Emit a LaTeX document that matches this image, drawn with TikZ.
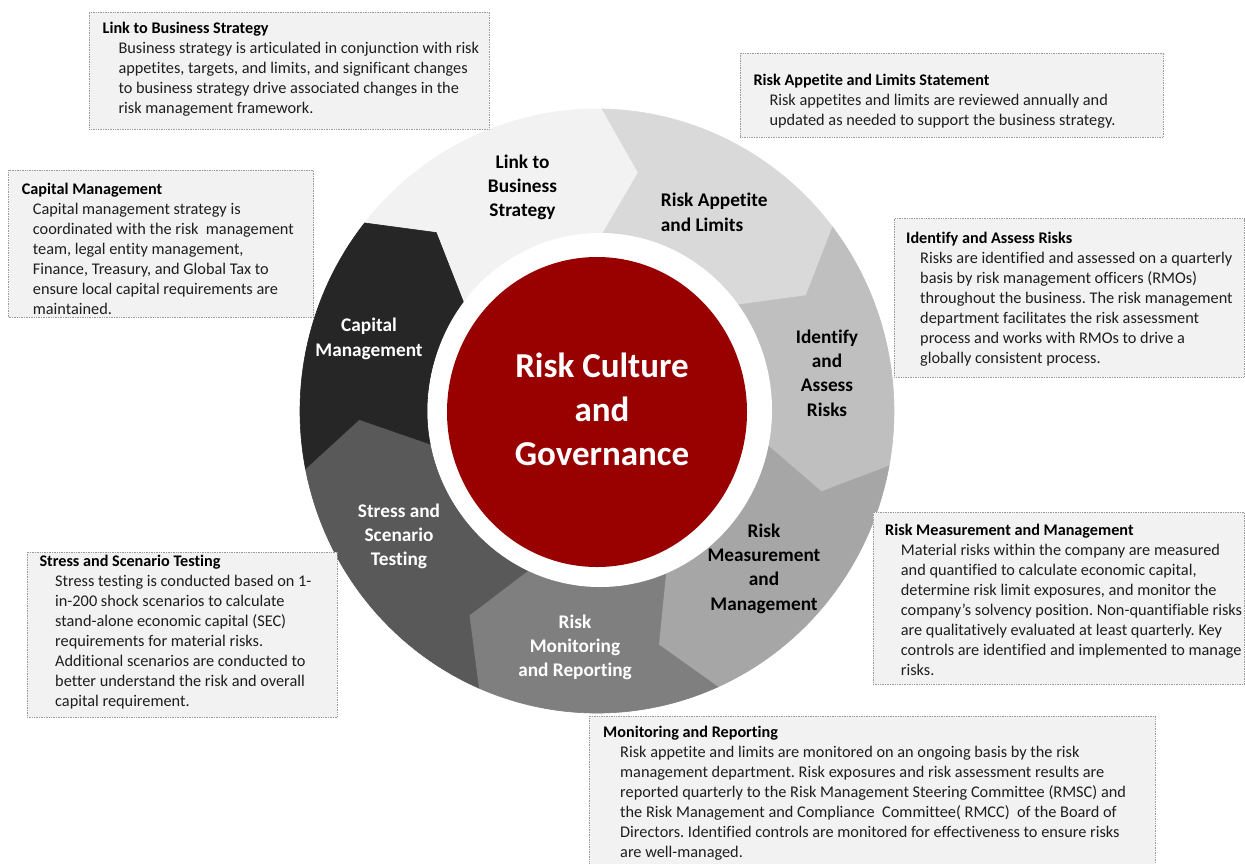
\documentclass[tikz,border=0pt]{standalone}
\usepackage{fontspec}
\setmainfont{Carlito}[Ligatures={NoCommon}]
\frenchspacing
\definecolor{boxfill}{HTML}{F2F2F2}
\definecolor{boxline}{HTML}{9A9A9A}
\definecolor{cLink}{HTML}{F2F2F2}
\definecolor{cApp}{HTML}{D9D9D9}
\definecolor{cIdent}{HTML}{BFBFBF}
\definecolor{cMeas}{HTML}{A6A6A6}
\definecolor{cMon}{HTML}{7F7F7F}
\definecolor{cStress}{HTML}{595959}
\definecolor{cCap}{HTML}{262626}
\definecolor{cRed}{HTML}{990000}
\definecolor{bodytext}{HTML}{1E1E1E}
\newcommand{\RingOut}{297}
\newcommand{\RingMid}{238}
\newcommand{\RingIn}{170}
\newcommand{\segment}[3]{%
  \fill[#3, draw=#3, line width=0.6pt] (#1:\RingOut) arc[start angle=#1, end angle=#2, radius=\RingOut]
    -- ({#2-9}:\RingMid) -- (#2:\RingIn) arc[start angle=#2, end angle=#1, radius=\RingIn]
    -- ({#1-9}:\RingMid) -- cycle;}
\begin{document}
\begin{tikzpicture}[x=1pt,y=-1pt,
  box/.style={fill=boxfill, draw=boxline, densely dotted, line width=0.7pt, inner sep=0pt, anchor=north west},
  ttl/.style={font=\fontsize{16.2}{20}\selectfont\bfseries, inner sep=0pt, anchor=base west, text=black},
  bdy/.style={font=\fontsize{16.3}{20}\selectfont, inner sep=0pt, anchor=base west, text=bodytext},
  seglab/.style={font=\fontsize{19.3}{24.3}\selectfont\bfseries, inner sep=0pt, anchor=base},
  centerlab/.style={font=\fontsize{35}{44}\selectfont\bfseries, inner sep=0pt, anchor=base, text=white}
]
\useasboundingbox (0,0) rectangle (1245,863);
\fill[white] (0,0) rectangle (1245,863);

% ring
\begin{scope}[shift={(597,411)}, y=1pt, yscale=1.017]
  \segment{141.5}{89}{cLink}
  \segment{89}{37.5}{cApp}
  \segment{37.5}{-10.5}{cIdent}
  \segment{-10.5}{-66}{cMeas}
  \segment{-66}{-113.5}{cMon}
  \segment{-113.5}{-169}{cStress}
  \segment{-169}{-218.5}{cCap}
\end{scope}
\fill[white] (600,410) ellipse[x radius=172, y radius=177];
\fill[cRed] (597,412) ellipse[x radius=150, y radius=155];

% segment labels
\node[seglab, text=black] (lLink) at (522.5,168.3) {\begin{tabular}[t]{@{}c@{}}Link to\\Business\\Strategy\end{tabular}};
\node[seglab, text=black, anchor=base west] (lApp) at (660.7,206.7) {\begin{tabular}[t]{@{}l@{}}Risk Appetite\\and Limits\end{tabular}};
\node[seglab, text=black] (lIdent) at (827,343.3) {\begin{tabular}[t]{@{}c@{}}Identify\\and\\Assess\\Risks\end{tabular}};
\node[seglab, text=black] (lMeas) at (764,537.3) {\begin{tabular}[t]{@{}c@{}}Risk\\Measurement\\and\\Management\end{tabular}};
\node[seglab, text=white] (lMon) at (575,628.3) {\begin{tabular}[t]{@{}c@{}}Risk\\Monitoring\\and Reporting\end{tabular}};
\node[seglab, text=white] (lStress) at (399,517.3) {\begin{tabular}[t]{@{}c@{}}Stress and\\Scenario\\Testing\end{tabular}};
\node[seglab, text=white] (lCap) at (369,331.7) {\begin{tabular}[t]{@{}c@{}}Capital\\Management\end{tabular}};
\node[centerlab] (lCore) at (602,377.7) {\begin{tabular}[t]{@{}c@{}}Risk Culture\\and\\Governance\end{tabular}};

% text boxes
\node[box, minimum width=400pt, minimum height=117pt] (bLink) at (89,11.7) {};
\node[ttl] (tLink) at (102.5,33.5) {Link to Business Strategy};
\node[bdy] (dLink) at (118.3,53) {\begin{tabular}[t]{@{}l@{}}Business strategy is articulated in conjunction with risk\\appetites, targets, and limits, and significant changes\\to business strategy drive associated changes in the\\risk management framework.\end{tabular}};

\node[box, minimum width=305pt, minimum height=146.7pt] (bCap) at (8.3,170) {};
\node[ttl] (tCap) at (21.7,194.3) {Capital Management};
\node[bdy] (dCap) at (32.7,214.3) {\begin{tabular}[t]{@{}l@{}}Capital management strategy is\\coordinated with the risk\ \ management\\team, legal entity management,\\Finance, Treasury, and Global Tax to\\ensure local capital requirements are\\maintained.\end{tabular}};

\node[box, minimum width=423pt, minimum height=84pt] (bApp) at (740,52.7) {};
\node[ttl] (tApp) at (753.3,85) {Risk Appetite and Limits Statement};
\node[bdy] (dApp) at (769.3,105) {\begin{tabular}[t]{@{}l@{}}Risk appetites and limits are reviewed annually and\\updated as needed to support the business strategy.\end{tabular}};

\node[box, minimum width=350pt, minimum height=158.4pt] (bIdent) at (894,218.3) {};
\node[ttl] (tIdent) at (906,243.3) {Identify and Assess Risks};
\node[bdy] (dIdent) at (920,263.3) {\begin{tabular}[t]{@{}l@{}}Risks are identified and assessed on a quarterly\\basis by risk management officers (RMOs)\\throughout the business. The risk management\\department facilitates the risk assessment\\process and works with RMOs to drive a\\globally consistent process.\end{tabular}};

\node[box, minimum width=371.5pt, minimum height=172pt] (bMeas) at (872.7,512) {};
\node[ttl] (tMeas) at (885,535) {Risk Measurement and Management};
\node[bdy] (dMeas) at (900.7,555) {\begin{tabular}[t]{@{}l@{}}Material risks within the company are measured\\and quantified to calculate economic capital,\\determine risk limit exposures, and monitor the\\company’s solvency position. Non-quantifiable risks\\are qualitatively evaluated at least quarterly. Key\\controls are identified and implemented to manage\\risks.\end{tabular}};

\node[box, minimum width=310.3pt, minimum height=165pt] (bStress) at (26.7,551.7) {};
\node[ttl] (tStress) at (39.3,566) {Stress and Scenario Testing};
\node[bdy] (dStress) at (55,586) {\begin{tabular}[t]{@{}l@{}}Stress testing is conducted based on 1-\\in-200 shock scenarios to calculate\\stand-alone economic capital (SEC)\\requirements for material risks.\\Additional scenarios are conducted to\\better understand the risk and overall\\capital requirement.\end{tabular}};

\node[box, minimum width=566pt, minimum height=160pt] (bMon) at (589,716) {};
\node[ttl] (tMon) at (603,737) {Monitoring and Reporting};
\node[bdy] (dMon) at (620,757) {\begin{tabular}[t]{@{}l@{}}Risk appetite and limits are monitored on an ongoing basis by the risk\\management department. Risk exposures and risk assessment results are\\reported quarterly to the Risk Management Steering Committee (RMSC) and\\the Risk Management and Compliance\ \ Committee( RMCC)\ \ of the Board of\\Directors. Identified controls are monitored for effectiveness to ensure risks\\are well-managed.\end{tabular}};
\end{tikzpicture}
\end{document}
